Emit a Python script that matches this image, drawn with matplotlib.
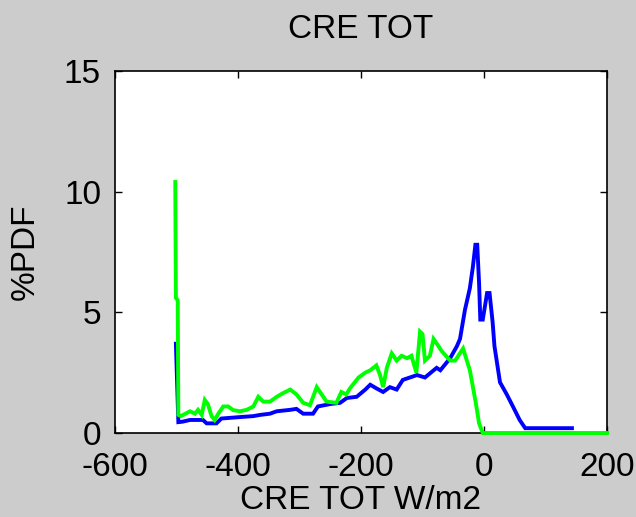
import matplotlib
matplotlib.use("Agg")
import matplotlib.pyplot as plt

plt.rcParams['font.family'] = ['Liberation Sans', 'DejaVu Sans']
plt.rcParams['axes.unicode_minus'] = False

# PDF of total cloud radiative effect, two datasets
blue_x = [-501, -497, -490, -478, -457, -451, -435, -427, -402, -375, -364, -348,
          -337, -315, -305, -294, -278, -270, -250, -234, -223, -207, -193, -185,
          -175, -164, -153, -142, -132, -109, -96, -77, -71, -55, -44, -39, -31,
          -23, -18, -14, -11, -8, -6, -2, 5, 9, 14, 17, 26, 37, 47, 58, 67, 143]
blue_y = [3.7, 0.45, 0.47, 0.54, 0.54, 0.40, 0.40, 0.60, 0.65, 0.70, 0.75, 0.80,
          0.90, 0.96, 1.0, 0.80, 0.80, 1.1, 1.2, 1.25, 1.45, 1.5, 1.8, 2.0,
          1.85, 1.7, 1.9, 1.8, 2.2, 2.4, 2.3, 2.7, 2.6, 3.1, 3.6, 3.9, 5.1,
          6.0, 6.9, 7.8, 7.8, 6.2, 4.7, 4.7, 5.8, 5.8, 4.6, 3.6, 2.1, 1.6, 1.1, 0.54, 0.2, 0.2]

green_x = [-502, -501, -498, -497, -493, -478, -470, -465, -459, -454, -449, -443,
           -438, -432, -424, -416, -408, -397, -386, -375, -367, -359, -348, -337,
           -327, -315, -305, -294, -283, -272, -264, -256, -240, -232, -224, -218,
           -204, -193, -185, -175, -169, -164, -158, -150, -142, -134, -125, -118,
           -110, -104, -100, -96, -88, -82, -74, -69, -55, -47, -34, -23, -18,
           -13, -8, -2, 200]
green_y = [10.4, 5.6, 5.5, 0.75, 0.7, 0.9, 0.8, 0.96, 0.75, 1.37, 1.2, 0.7,
           0.54, 0.8, 1.1, 1.1, 0.95, 0.9, 0.96, 1.1, 1.5, 1.3, 1.3, 1.5,
           1.65, 1.8, 1.6, 1.25, 1.15, 1.9, 1.6, 1.3, 1.25, 1.7, 1.6, 1.85,
           2.3, 2.5, 2.6, 2.8, 2.4, 1.9, 2.7, 3.3, 3.0, 3.2, 3.1, 3.2,
           2.5, 4.2, 4.1, 3.0, 3.2, 3.9, 3.6, 3.4, 3.0, 3.0, 3.5, 2.6, 1.9,
           1.2, 0.4, 0.0, 0.0]

x_ticks = [-600, -400, -200, 0, 200]
y_ticks = [0, 5, 10, 15]

fig = plt.figure(figsize=(6.36, 5.17), dpi=100, facecolor='#cccccc')
ax = fig.add_axes([115 / 636, 84 / 517, 492 / 636, 362 / 517])
ax.set_facecolor('white')

ax.plot(blue_x, blue_y, color='#0000ff', lw=2.8, solid_joinstyle='miter',
        zorder=3, clip_on=False)
ax.plot(green_x, green_y, color='#00ff00', lw=2.8, solid_joinstyle='miter',
        zorder=3, clip_on=False)

ax.set_xlim(-600, 200)
ax.set_ylim(0, 15)
ax.set_xticks(x_ticks)
ax.set_yticks(y_ticks)
ax.tick_params(direction='in', length=5, width=1, top=True, right=True,
               labelsize=24, colors='black')
ax.tick_params(axis='x', pad=14)
ax.tick_params(axis='y', pad=10)
for sp in ax.spines.values():
    sp.set_linewidth(1.2)

ax.set_title('CRE TOT', fontsize=24, pad=24)
ax.set_xlabel('CRE TOT W/m2', fontsize=24)
ax.set_ylabel('%PDF', fontsize=24)
ax.xaxis.set_label_coords(0.5, -0.143)
ax.yaxis.set_label_coords(-0.15, 0.5)

fig.savefig('out.png', dpi=100, facecolor=fig.get_facecolor())
